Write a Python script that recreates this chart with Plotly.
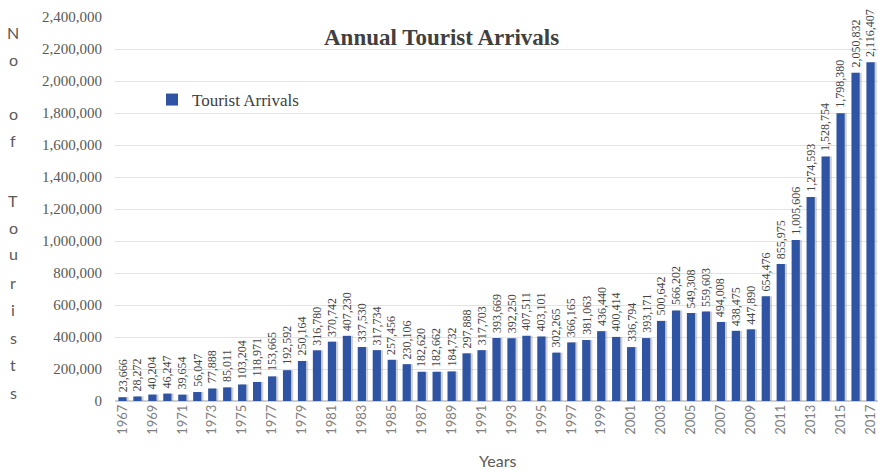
import plotly.graph_objects as go

years = list(range(1967, 2018))
arrivals = [
    23666, 28272, 40204, 46247, 39654, 56047, 77888, 85011, 103204, 118971,
    153665, 192592, 250164, 316780, 370742, 407230, 337530, 317734, 257456, 230106,
    182620, 182662, 184732, 297888, 317703, 393669, 392250, 407511, 403101, 302265,
    366165, 381063, 436440, 400414, 336794, 393171, 500642, 566202, 549308, 559603,
    494008, 438475, 447890, 654476, 855975, 1005606, 1274593, 1528754, 1798380,
    2050832, 2116407,
]
tick_years = list(range(1967, 2018, 2))
y_ticks = list(range(0, 2400001, 200000))

SERIF = "Liberation Serif, Times New Roman, serif"
SANS = "Lato, sans-serif"

W, H = 878, 471
ML, MR, MT, MB = 115, 0, 17, 70
PW, PH = W - ML - MR, H - MT - MB

def px_x(x):
    return (x - ML) / PW

def px_y(y):
    return 1 - (y - MT) / PH

fig = go.Figure()

# soft shadow behind each bar
fig.add_trace(go.Bar(
    x=[y + 0.14 for y in years], y=arrivals,
    marker=dict(color="rgba(140,140,140,0.4)", line=dict(width=0)),
    width=0.55, hoverinfo="skip", showlegend=False,
))

fig.add_trace(go.Bar(
    x=years, y=arrivals, name="Tourist Arrivals",
    marker=dict(color="#2f54a3", line=dict(width=0)),
    width=0.55,
))

# vertical value labels above the bars
annotations = [
    dict(text=f"{v:,}", x=yr, y=v, xref="x", yref="y", showarrow=False,
         textangle=-90, xanchor="center", yanchor="bottom", yshift=3,
         font=dict(family=SERIF, size=12, color="#444444"))
    for yr, v in zip(years, arrivals)
]

# vertical stacked y-axis title
letters = [("N", 33), ("o", 60), ("o", 113), ("f", 140), ("T", 200), ("o", 227),
           ("u", 253), ("r", 282), ("i", 309), ("s", 337), ("t", 364), ("s", 392)]
annotations += [
    dict(text=ch, x=px_x(13), y=px_y(py), xref="paper", yref="paper",
         showarrow=False, xanchor="center", yanchor="middle",
         font=dict(family=SANS, size=16, color="#595959"))
    for ch, py in letters
]
annotations.append(dict(
    text="<b>Annual Tourist Arrivals</b>", x=px_x(441), y=px_y(37),
    xref="paper", yref="paper", showarrow=False, xanchor="center", yanchor="middle",
    font=dict(family=SERIF, size=23, color="#404040"),
))
annotations.append(dict(
    text="Years", x=px_x(497), y=px_y(460), xref="paper", yref="paper",
    showarrow=False, xanchor="center", yanchor="middle",
    font=dict(family=SANS, size=16, color="#595959"),
))

fig.update_layout(
    width=W, height=H,
    margin=dict(l=ML, r=MR, t=MT, b=MB),
    paper_bgcolor="white", plot_bgcolor="white",
    barmode="overlay",
    showlegend=True,
    legend=dict(x=px_x(152), y=px_y(100), xanchor="left", yanchor="middle",
                font=dict(family=SERIF, size=17, color="#404040"),
                bgcolor="rgba(0,0,0,0)", itemwidth=30),
    annotations=annotations,
    xaxis=dict(
        range=[1966.5, 2017.5], tickmode="array", tickvals=tick_years,
        ticktext=[str(y) for y in tick_years], tickangle=-90,
        tickfont=dict(family=SANS, size=13, color="#7f7f7f"),
        ticklabeloverflow="allow",
        showgrid=False, showline=False, zeroline=False, ticks="",
    ),
    yaxis=dict(
        range=[0, 2400000], tickmode="array", tickvals=y_ticks,
        ticktext=[f"{v:,}" for v in y_ticks],
        tickfont=dict(family=SERIF, size=15, color="#595959"),
        showgrid=True, gridcolor="#e3e3e3", gridwidth=1,
        zeroline=True, zerolinecolor="#d0d0d0", ticks="", ticklabelstandoff=12,
    ),
)

fig.write_html("out.html")
